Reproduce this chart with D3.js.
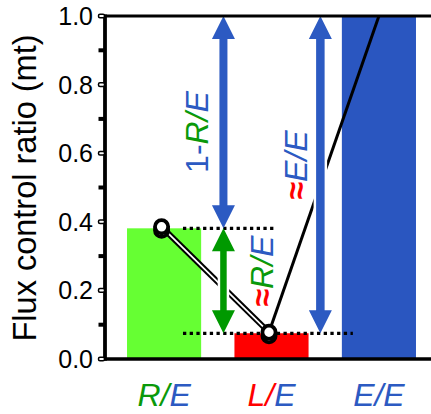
<!DOCTYPE html>
<html>
<head>
<meta charset="utf-8">
<script src="https://cdn.jsdelivr.net/npm/d3@7"></script>
<style>
  html, body { margin: 0; padding: 0; background: #fff; }
  svg { display: block; font-family: Arial, "Liberation Sans", sans-serif; }
</style>
</head>
<body>
<svg id="svg1" width="431" height="414"></svg>
<script>
// data
var categories = ["R/E", "L/E", "E/E"];
var ratios = [0.381, 0.075, 1.0];
var majorTicks = [0, 0.2, 0.4, 0.6, 0.8, 1.0];
var minorTicks = [0.1, 0.3, 0.5, 0.7, 0.9];
var tickLabels = ["0.0", "0.2", "0.4", "0.6", "0.8", "1.0"];

var GREEN = "#0a990a", BLUE = "#2c5ac2", RED = "#ff0000";
var barColors = ["#66ff33", "#ff0000", "#2a56c0"];

var svg = d3.select("#svg1");

var x = d3.scaleBand().domain(categories).range([105, 438])
    .paddingInner(0.31).paddingOuter(0.205);
var y = d3.scaleLinear().domain([0, 1]).range([359, 16]);

var cx = function (c) { return x(c) + x.bandwidth() / 2; };
var val = function (c) { return ratios[categories.indexOf(c)]; };

// bars
svg.append("g").selectAll("rect").data(categories).enter().append("rect")
    .attr("x", function (d) { return x(d); })
    .attr("y", function (d) { return y(val(d)); })
    .attr("width", x.bandwidth())
    .attr("height", function (d) { return y(0) - y(val(d)); })
    .attr("fill", function (d, i) { return barColors[i]; });

// dotted guide lines
var dotStart = x("R/E") + x.bandwidth() * 0.755;
svg.append("line")
    .attr("x1", dotStart).attr("x2", x("L/E") + x.bandwidth() * 0.53)
    .attr("y1", y(val("R/E"))).attr("y2", y(val("R/E")))
    .attr("stroke", "#000").attr("stroke-width", 3.3).attr("stroke-dasharray", "3.3,3.4");
svg.append("line")
    .attr("x1", dotStart).attr("x2", x("E/E") + 11)
    .attr("y1", y(val("L/E"))).attr("y2", y(val("L/E")))
    .attr("stroke", "#000").attr("stroke-width", 3.3).attr("stroke-dasharray", "3.3,3.4");

// connecting lines
var pR = [cx("R/E") - 2.5, y(val("R/E")) - 1.5];
var pL = [cx("L/E") - 2.5, y(val("L/E")) - 1];
var pE = [cx("E/E"), y(val("E/E"))];

svg.append("line").attr("x1", pR[0]).attr("y1", pR[1]).attr("x2", pL[0]).attr("y2", pL[1])
    .attr("stroke", "#000").attr("stroke-width", 5.8);
svg.append("line").attr("x1", pR[0]).attr("y1", pR[1]).attr("x2", pL[0]).attr("y2", pL[1])
    .attr("stroke", "#fff").attr("stroke-width", 1.8);
svg.append("line").attr("x1", pL[0]).attr("y1", pL[1]).attr("x2", pE[0]).attr("y2", pE[1])
    .attr("stroke", "#000").attr("stroke-width", 3);

// double headed arrows
var drawArrow = function (ax, yTop, yBot, shaft, color) {
    var hw = 11.5, hl = 23, s = shaft / 2;
    svg.append("rect")
        .attr("x", ax - s - 2.5).attr("y", yTop + hl)
        .attr("width", shaft + 5).attr("height", yBot - yTop - 2 * hl)
        .attr("fill", "#fff");
    var p = d3.path();
    p.moveTo(ax, yTop);
    p.lineTo(ax + hw, yTop + hl);
    p.lineTo(ax + s, yTop + hl);
    p.lineTo(ax + s, yBot - hl);
    p.lineTo(ax + hw, yBot - hl);
    p.lineTo(ax, yBot);
    p.lineTo(ax - hw, yBot - hl);
    p.lineTo(ax - s, yBot - hl);
    p.lineTo(ax - s, yTop + hl);
    p.lineTo(ax - hw, yTop + hl);
    p.closePath();
    svg.append("path").attr("d", p.toString()).attr("fill", color);
};

var arrowA = x("L/E") - 11;
var arrowB = x("E/E") - 21.5;
drawArrow(arrowA, y(1), y(val("R/E")), 8, BLUE);
drawArrow(arrowA, y(val("R/E")), y(val("L/E")), 6.5, "#009900");
drawArrow(arrowB, y(1), y(val("L/E")), 8.5, BLUE);

// data points (double ring)
[pR, pL].forEach(function (p) {
    [3.5, 0].forEach(function (off) {
        svg.append("circle").attr("cx", p[0]).attr("cy", p[1] + off).attr("r", 6.6)
            .attr("fill", "#fff").attr("stroke", "#000").attr("stroke-width", 3.8);
    });
});

// rotated labels made of coloured parts
var richText = function (g, parts) {
    parts.forEach(function (pt) {
        var ts = g.append("tspan").text(pt[0]).attr("fill", pt[1])
            .attr("font-style", pt[2] ? "italic" : "normal");
        if (pt[0] == "\u2248") ts.attr("font-weight", "bold");
    });
};
var rotLabel = function (tx, ty, parts) {
    var t = svg.append("text")
        .attr("transform", "translate(" + tx + "," + ty + ") rotate(-90)")
        .attr("text-anchor", "middle").attr("font-size", 32);
    richText(t, parts);
};
rotLabel(208, 132, [["1-", BLUE, false], ["R/", GREEN, true], ["E", BLUE, true]]);
rotLabel(306.5, 165, [["\u2248", RED, false], ["E/E", BLUE, true]]);
rotLabel(273, 271, [["\u2248", RED, false], ["R/", GREEN, true], ["E", BLUE, true]]);

// category labels
var catParts = [
    [["R/", GREEN], ["E", BLUE]],
    [["L/", RED], ["E", BLUE]],
    [["E/E", BLUE]]
];
categories.forEach(function (c, i) {
    var t = svg.append("text").attr("x", cx(c)).attr("y", 406)
        .attr("text-anchor", "middle").attr("font-size", 32);
    richText(t, catParts[i].map(function (p) { return [p[0], p[1], true]; }));
});

// frame lines
svg.append("line").attr("x1", 103).attr("x2", 431).attr("y1", y(1)).attr("y2", y(1))
    .attr("stroke", "#000").attr("stroke-width", 3);
svg.append("line").attr("x1", 103).attr("x2", 431).attr("y1", y(0)).attr("y2", y(0))
    .attr("stroke", "#000").attr("stroke-width", 3.5);
svg.append("line").attr("x1", 105).attr("x2", 105).attr("y1", y(1) - 1.5).attr("y2", y(0) + 1.7)
    .attr("stroke", "#000").attr("stroke-width", 3.8);

// y ticks
svg.append("g").selectAll("rect").data(minorTicks).enter().append("rect")
    .attr("x", 98.5).attr("y", function (d) { return y(d) - 2; })
    .attr("width", 6).attr("height", 4).attr("fill", "#000");
svg.append("g").selectAll("rect").data(majorTicks).enter().append("rect")
    .attr("x", 98.5).attr("y", function (d) { return y(d) - 1.8; })
    .attr("width", 6).attr("height", 3.6).attr("rx", 1.5)
    .attr("fill", "#fff").attr("stroke", "#000").attr("stroke-width", 1.5);
svg.append("g").selectAll("text").data(majorTicks).enter().append("text")
    .attr("x", 93).attr("y", function (d) { return y(d); }).attr("dy", "0.36em")
    .attr("text-anchor", "end").attr("font-size", 25).attr("fill", "#000")
    .text(function (d, i) { return tickLabels[i]; });

// axis title
svg.append("text")
    .attr("transform", "translate(36," + 188 + ") rotate(-90)")
    .attr("text-anchor", "middle").attr("font-size", 32.5).attr("fill", "#000")
    .text("Flux control ratio (mt)");
</script>
</body>
</html>
